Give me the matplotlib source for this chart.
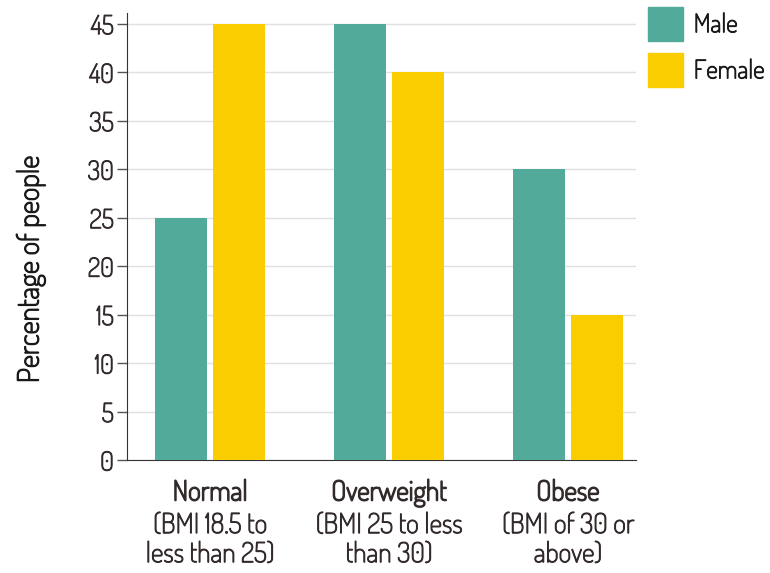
import matplotlib
matplotlib.use('Agg')
import matplotlib.pyplot as plt
import matplotlib.patheffects as pe
from matplotlib import font_manager
from matplotlib.patches import Patch
import numpy as np

# pick a narrow, rounded font if one is installed
installed = {f.name for f in font_manager.fontManager.ttflist}
for fam in ['Dosis', 'Roboto Condensed', 'Liberation Sans Narrow', 'DejaVu Sans']:
    if fam in installed:
        break
plt.rcParams['font.family'] = [fam, 'DejaVu Sans']

# Categories and values
groups = ['Normal', 'Overweight', 'Obese']
subtitles = ['(BMI 18.5 to\nless than 25)', '(BMI 25 to less\nthan 30)', '(BMI of 30 or\nabove)']
male = [25, 45, 30]
female = [45, 40, 15]
yticks = [0, 5, 10, 15, 20, 25, 30, 35, 40, 45]

teal = '#52ab9a'
yellow = '#f9cd00'
txt = '#332b2b'

# the installed font is thin, so thicken strokes a bit
regular = [pe.withStroke(linewidth=0.7, foreground=txt)]
heavy = [pe.withStroke(linewidth=1.1, foreground=txt)]

fig = plt.figure(figsize=(7.7, 5.73), dpi=100)
ax = fig.add_axes([0.165, 0.197, 0.661, 0.780])

x = np.arange(len(groups))
w = 0.29
off = 0.162
ax.bar(x - off, male, w, color=teal, zorder=3)
ax.bar(x + off, female, w, color=yellow, zorder=3)

ax.set_xlim(-0.464, 2.38)
ax.set_ylim(0, 46.1)
ax.set_yticks(yticks)
ax.set_yticklabels([str(v) for v in yticks], fontsize=19, color=txt)
for t in ax.get_yticklabels():
    t.set_path_effects(regular)
ax.tick_params(axis='y', length=7, width=1, color='#555555', pad=2.5)
ax.set_xticks([])
ax.grid(axis='y', color='#e0e0e0', linewidth=1, zorder=0)

for s in ['top', 'right']:
    ax.spines[s].set_visible(False)
ax.spines['left'].set_color('#333333')
ax.spines['bottom'].set_color('#333333')

ylab = ax.set_ylabel('Percentage of people', fontsize=21, color='#1a1a1a')
ylab.set_path_effects([pe.withStroke(linewidth=0.9, foreground='#1a1a1a')])
ax.yaxis.set_label_coords(-0.16, 0.427)

# category labels: bold name, then description
for xi, g, sub in zip(x, groups, subtitles):
    ax.annotate(g, xy=(xi, 0), xycoords=('data', 'axes fraction'),
                xytext=(0, -14), textcoords='offset points',
                ha='center', va='top', fontsize=20, color=txt,
                path_effects=heavy)
    ax.annotate(sub, xy=(xi, 0), xycoords=('data', 'axes fraction'),
                xytext=(0, -37.5), textcoords='offset points',
                ha='center', va='top', fontsize=20, color=txt,
                linespacing=1.1, path_effects=regular)

handles = [Patch(color=teal, label='Male'), Patch(color=yellow, label='Female')]
leg = fig.legend(handles=handles, loc='upper left',
                 bbox_to_anchor=(648 / 770, 1 - 7 / 573),
                 frameon=False, fontsize=18.5, handlelength=1.36, handleheight=1.66,
                 handletextpad=0.42, labelspacing=0.47, borderaxespad=0, borderpad=0)
for t in leg.get_texts():
    t.set_color('#1a1a1a')
    t.set_path_effects([pe.withStroke(linewidth=0.7, foreground='#1a1a1a')])

fig.savefig('out.png', dpi=100)
